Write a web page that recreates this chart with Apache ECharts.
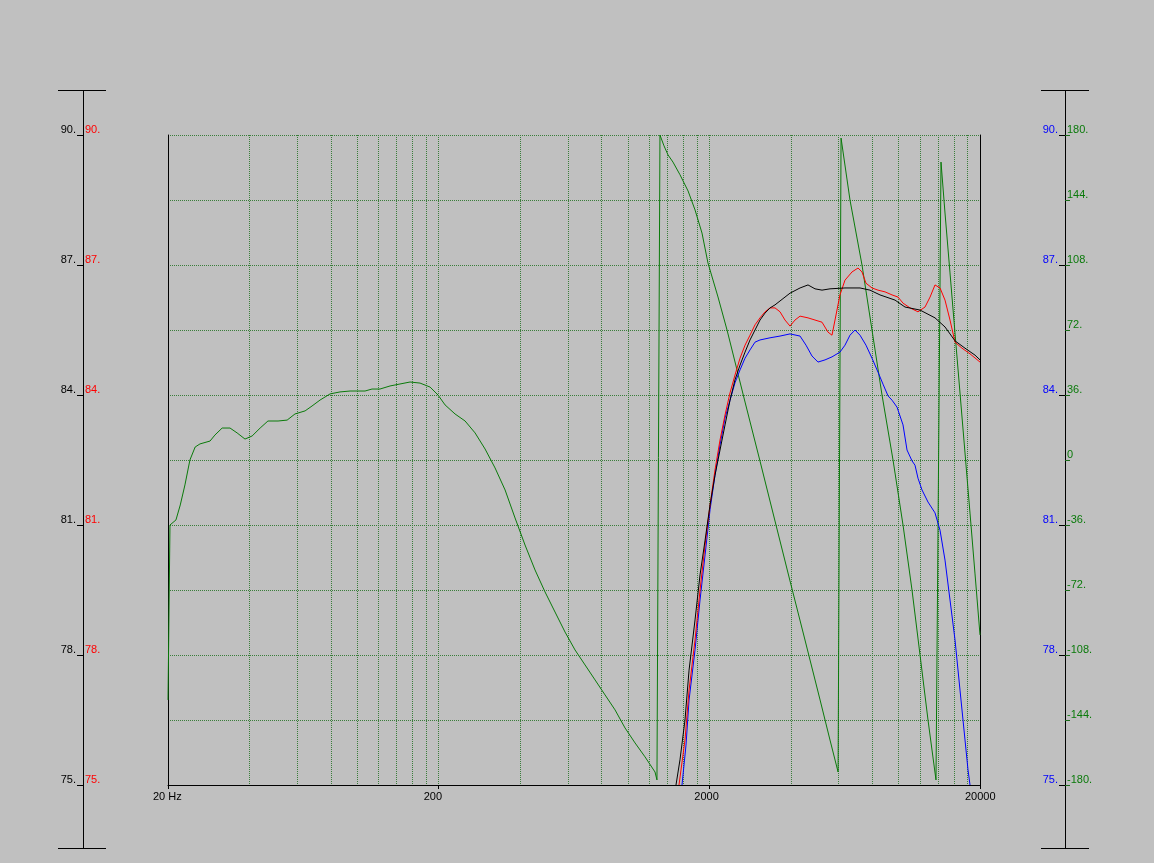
<!DOCTYPE html>
<html>
<head>
<meta charset="utf-8">
<script src="https://cdn.jsdelivr.net/npm/echarts@6/dist/echarts.min.js"></script>
<style>
html,body{margin:0;padding:0;background:#c0c0c0;}
#c{width:1154px;height:863px;}
</style>
</head>
<body>
<div id="c"></div>
<script>
// ---- data (frequency in Hz, level in dB, phase in degrees) ----
const xTickLabels = ['20 Hz', '200', '2000', '20000'];
const gridHz = [40,60,80,100,120,140,160,180,200,400,600,800,1000,1200,1400,1600,1800,2000,4000,6000,8000,10000,12000,14000,16000,18000];

const blackHz = [1506,1558,1626,1683,1771,1848,1929,2012,2099,2190,2286,2385,2488,2597,2710,2827,2950,3078,3212,3352,3497,3973,4327,4630,4914,5216,5583,6342,7206,7844,8541,9707,10568,12008,13640,14851,16170,17606,19170,20000];
const blackDb = [75,75.58,76.5,77.65,78.81,79.85,80.65,81.46,82.15,82.73,83.31,83.88,84.35,84.69,84.99,85.27,85.5,85.73,85.89,86.01,86.08,86.35,86.47,86.54,86.45,86.42,86.45,86.47,86.47,86.42,86.31,86.19,86.03,85.96,85.78,85.57,85.25,85.08,84.92,84.81];

const redHz = [1545,1626,1683,1771,1848,1929,2012,2099,2190,2286,2385,2488,2597,2710,2827,2950,3078,3212,3352,3497,3649,3807,3973,4145,4327,4630,4914,5216,5490,5679,5826,6077,6342,6733,7086,7330,7582,7980,8397,8915,9462,9957,10390,11030,11802,12527,13077,13640,14235,14851,15497,16170,17160,18370,20000];
const redDb = [75,76.04,77.19,78.35,79.5,80.54,81.46,82.27,82.96,83.54,84.05,84.46,84.85,85.15,85.38,85.62,85.78,85.92,86.01,86.01,85.92,85.73,85.59,85.73,85.82,85.78,85.73,85.68,85.45,85.38,85.73,86.31,86.65,86.84,86.93,86.84,86.58,86.47,86.42,86.38,86.31,86.26,86.12,86.01,85.92,86.03,86.26,86.54,86.47,86.19,85.73,85.22,85.08,84.95,84.76];

const blueHz = [1585,1640,1683,1771,1848,1929,2012,2099,2190,2286,2385,2488,2597,2710,2827,2950,3078,3352,3649,3973,4327,4552,4790,5041,5351,5679,6077,6342,6618,6907,7206,7582,7980,8397,8764,9146,9462,9873,10390,10750,11215,11505,11802,12210,12851,13640,14235,14851,15497,16170,16873,17606,18060,18370];
const blueDb = [75,75.92,76.96,78.12,79.27,80.31,81.35,82.15,82.85,83.47,83.88,84.28,84.58,84.85,85.04,85.22,85.27,85.32,85.36,85.41,85.36,85.15,84.9,84.76,84.81,84.88,84.99,85.15,85.38,85.5,85.38,85.15,84.85,84.53,84.25,83.98,83.88,83.72,83.31,82.73,82.48,82.38,82.08,81.81,81.53,81.28,80.88,80.19,79.27,78.35,77.19,76.04,75.35,75];

const greenHz = [20,20.34,21.4,22.2,23.1,24.1,25.2,26.25,28.6,29.8,31.7,33.9,36.0,38.5,40.9,43.8,46.8,51.0,55.1,58.9,64.2,68.1,72.9,79.4,86.4,94.1,106.9,113.4,121.4,132.2,143.9,156.8,170.7,185.9,198.9,211.2,229.9,250.4,272.6,296.8,323.1,351.9,383.0,417.0,454.0,494.4,538.2,586.1,638.0,694.7,756.4,823.5,896.7,976.2,1063,1157,1260,1281,1314,1360,1407,1468,1558,1669,1771,1879,1977,2153,2325,2710,3078,3497,3973,4513,5131,5583,5980,6133,6618,7330,7980,8690,9543,10390,11215,12008,12851,13755,14354,14851,15497,16170,16873,17606,18370,19170,20000];
const greenDeg = [-132.9,-36,-33.2,-24.9,-13.8,0,7.2,8.9,10.5,13.8,17.7,17.7,15.0,11.6,13.3,17.7,21.6,21.6,22.1,25.5,27.2,29.9,33.2,36.6,37.7,38.2,38.2,39.3,39.3,41.0,42.1,43.2,42.6,40.4,36.0,30.5,25.5,21.6,15.0,6.1,-4.4,-16.6,-32.1,-47.1,-60.9,-73.1,-84.2,-95.3,-105.2,-113.5,-121.8,-130.1,-138.4,-148.4,-156.7,-164.4,-172.8,-177.2,180,174,169,165,158,149,138.5,125.7,109.1,90.3,72.0,32.1,-0.6,-33.8,-67.0,-99.7,-132.9,-155.1,-172.8,178.3,144,108,72,36,0,-36,-72,-108,-144,-177.2,165,136.8,103.6,70.3,37.1,3.9,-29.4,-63.1,-96.9];

// ---- helpers ----
const lx = f => Math.log10(f / 20);
const pairs = (hz, v) => hz.map((f, i) => [lx(f), v[i]]);
const FONT = 'Liberation Sans, Arial, sans-serif';
const GRID_GREEN = '#3a7e3a';
const DOT = [1, 1];

const chart = echarts.init(document.getElementById('c'), null, {renderer: 'canvas'});

const lblBase = {fontSize: 11, fontFamily: FONT, verticalAlign: 'bottom', lineHeight: 11};

const option = {
  backgroundColor: '#c0c0c0',
  animation: false,
  grid: {left: 168, right: 174, top: 135, bottom: 78, containLabel: false},
  xAxis: [
    {
      type: 'value', min: 0, max: 3, interval: 1, position: 'bottom',
      axisLine: {show: true, onZero: false, lineStyle: {color: '#000', width: 1}},
      axisTick: {show: true, length: 4, lineStyle: {color: '#000'}},
      splitLine: {show: false},
      axisLabel: {
        margin: 6, color: '#000', fontSize: 11, fontFamily: FONT,
        formatter: (v) => '{a|' + xTickLabels[Math.round(v)] + '}',
        rich: {a: {width: 30, align: 'left', fontSize: 11, fontFamily: FONT, color: '#000'}}
      }
    },
    {
      type: 'value', min: 0, max: 3, position: 'top',
      axisLine: {show: false, onZero: false},
      axisLabel: {show: false},
      axisTick: {show: false, customValues: gridHz.map(lx)},
      splitLine: {show: true, lineStyle: {color: GRID_GREEN, type: DOT, width: 1}}
    }
  ],
  yAxis: [
    { // black labels, left
      type: 'value', min: 75, max: 90, interval: 3, position: 'left', offset: 85,
      axisLine: {show: false, onZero: false},
      axisTick: {show: true, length: 6, lineStyle: {color: '#000'}},
      splitLine: {show: false},
      axisLabel: Object.assign({color: '#000', margin: 7, formatter: v => v + '.'}, lblBase)
    },
    { // red labels, left (inside)
      type: 'value', min: 75, max: 90, interval: 3, position: 'left', offset: 85,
      axisLine: {show: false, onZero: false}, axisTick: {show: false}, splitLine: {show: false},
      axisLabel: Object.assign({color: '#ff0000', margin: 2, inside: true, formatter: v => v + '.'}, lblBase)
    },
    { // blue labels, right (inside)
      type: 'value', min: 75, max: 90, interval: 3, position: 'right', offset: 85,
      axisLine: {show: false, onZero: false},
      axisTick: {show: true, inside: true, length: 6, lineStyle: {color: '#000'}},
      splitLine: {show: false},
      axisLabel: Object.assign({color: '#0000ff', margin: 7, inside: true, formatter: v => v + '.'}, lblBase)
    },
    { // green phase labels, right
      type: 'value', min: -180, max: 180, interval: 36, position: 'right', offset: 85,
      axisLine: {show: false, onZero: false},
      axisTick: {show: true, length: 5, lineStyle: {color: '#1a6a1a'}},
      splitLine: {show: true, lineStyle: {color: GRID_GREEN, type: DOT, width: 1}},
      axisLabel: Object.assign({color: '#0a7a0a', margin: 2, formatter: v => v === 0 ? '0' : v + '.'}, lblBase)
    },
    { // frame left
      type: 'value', min: 75, max: 90, position: 'left', offset: 0,
      axisLine: {show: true, onZero: false, lineStyle: {color: '#000', width: 1}},
      axisTick: {show: false}, axisLabel: {show: false}, splitLine: {show: false}
    },
    { // frame right
      type: 'value', min: 75, max: 90, position: 'right', offset: 0,
      axisLine: {show: true, onZero: false, lineStyle: {color: '#000', width: 1}},
      axisTick: {show: false}, axisLabel: {show: false}, splitLine: {show: false}
    }
  ],
  graphic: [
    {type: 'line', shape: {x1: 83.5, y1: 90, x2: 83.5, y2: 848}, style: {stroke: '#000', lineWidth: 1}},
    {type: 'line', shape: {x1: 58, y1: 90.5, x2: 106, y2: 90.5}, style: {stroke: '#000', lineWidth: 1}},
    {type: 'line', shape: {x1: 58, y1: 848.5, x2: 106, y2: 848.5}, style: {stroke: '#000', lineWidth: 1}},
    {type: 'line', shape: {x1: 1065.5, y1: 90, x2: 1065.5, y2: 848}, style: {stroke: '#000', lineWidth: 1}},
    {type: 'line', shape: {x1: 1041, y1: 90.5, x2: 1089, y2: 90.5}, style: {stroke: '#000', lineWidth: 1}},
    {type: 'line', shape: {x1: 1041, y1: 848.5, x2: 1089, y2: 848.5}, style: {stroke: '#000', lineWidth: 1}}
  ],
  series: [
    {name: 'phase', type: 'line', xAxisIndex: 0, yAxisIndex: 3, data: pairs(greenHz, greenDeg),
     showSymbol: false, symbol: 'none', lineStyle: {color: '#0a7a0a', width: 1}, z: 2},
    {name: 'blue', type: 'line', xAxisIndex: 0, yAxisIndex: 2, data: pairs(blueHz, blueDb),
     showSymbol: false, symbol: 'none', lineStyle: {color: '#0000ff', width: 1}, z: 3},
    {name: 'red', type: 'line', xAxisIndex: 0, yAxisIndex: 0, data: pairs(redHz, redDb),
     showSymbol: false, symbol: 'none', lineStyle: {color: '#ff0000', width: 1}, z: 4},
    {name: 'black', type: 'line', xAxisIndex: 0, yAxisIndex: 0, data: pairs(blackHz, blackDb),
     showSymbol: false, symbol: 'none', lineStyle: {color: '#000000', width: 1}, z: 5}
  ]
};
chart.setOption(option);
</script>
</body>
</html>
